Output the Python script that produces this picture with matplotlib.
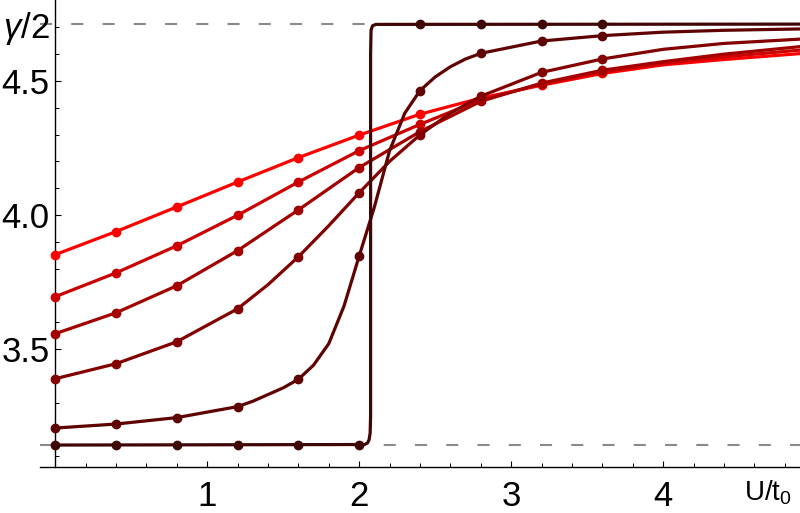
import numpy as np
import matplotlib
matplotlib.use('Agg')
import matplotlib.pyplot as plt
from matplotlib.ticker import FixedLocator

plt.rcParams['font.family'] = ['Liberation Sans', 'DejaVu Sans']
plt.rcParams['mathtext.fontset'] = 'custom'
plt.rcParams['mathtext.rm'] = 'Liberation Sans'
plt.rcParams['mathtext.it'] = 'Liberation Sans:italic'

PI = np.pi
HALF_GAMMA = 1.5 * np.pi

# sample points (dots)
x_dots = [0, 0.4, 0.8, 1.2, 1.6, 2.0, 2.4, 2.8, 3.2, 3.6]
c1_dots = [3.852, 3.938, 4.030, 4.123, 4.214, 4.298, 4.376, 4.436, 4.484, 4.528]
c2_dots = [3.695, 3.784, 3.885, 3.999, 4.123, 4.240, 4.338, 4.430, 4.488, 4.534]
c3_dots = [3.557, 3.635, 3.736, 3.867, 4.019, 4.177, 4.311, 4.424, 4.492, 4.540]
c4_dots = [3.389, 3.445, 3.527, 3.650, 3.844, 4.083, 4.299, 4.443, 4.532, 4.582]
c5_dots = [3.205, 3.220, 3.244, 3.285, 3.387, 3.847, 4.464, 4.603, 4.649, 4.669]
c6_dots = [PI] * 6 + [HALF_GAMMA] * 4

# curve values past the last dot
x_tail = [4.0, 4.4, 4.9]
c1_tail = [4.560, 4.580, 4.602]
c2_tail = [4.566, 4.590, 4.615]
c3_tail = [4.572, 4.600, 4.628]
c4_tail = [4.618, 4.640, 4.656]

# curves read more densely where they bend
c4_x = [0, 0.4, 0.8, 1.2, 1.4, 1.6, 1.8, 2.0, 2.2, 2.4, 2.6, 2.8, 3.2,
        3.6, 4.0, 4.4, 4.9]
c4_y = [3.389, 3.445, 3.527, 3.650, 3.740, 3.844, 3.960, 4.083, 4.200,
        4.299, 4.380, 4.443, 4.532, 4.582, 4.618, 4.640, 4.656]
c5_x = [0, 0.4, 0.8, 1.2, 1.3, 1.4, 1.5, 1.6, 1.7, 1.8, 1.9, 2.0, 2.1,
        2.2, 2.3, 2.4, 2.5, 2.6, 2.7, 2.8, 3.2, 3.6, 4.0, 4.4, 4.9]
c5_y = [3.205, 3.220, 3.244, 3.285, 3.305, 3.330, 3.355, 3.387, 3.440,
        3.520, 3.660, 3.847, 4.030, 4.240, 4.380, 4.464, 4.515, 4.553,
        4.582, 4.603, 4.649, 4.669, 4.682, 4.689, 4.694]
c6_x = [0, 2.035, 2.055, 2.065, 2.072, 2.075, 2.075, 2.078, 2.088, 2.11, 4.9]
c6_y = [PI, PI + 0.002, PI + 0.008, PI + 0.02, PI + 0.045, 3.25, 4.6,
        4.69, 4.706, 4.711, 4.712]

colors = ['#ff0000', '#cc0000', '#a30000', '#820000', '#5e0202', '#3f0606']


def main():
    fig = plt.figure(figsize=(8, 5.13), dpi=100)
    ax = fig.add_axes([40 / 800, 46 / 513, 760 / 800, 467 / 513])
    ax.set_xlim(-0.1, 4.9)
    ax.set_ylim(3.0597, 4.802)

    dash = (0, (5.8, 9.2))
    for yv in [PI, HALF_GAMMA]:
        ax.axhline(yv, color='#8a8a8a', lw=1.5, ls=dash, zorder=1)

    smooth = [(c1_dots, c1_tail), (c2_dots, c2_tail), (c3_dots, c3_tail)]
    for i, (d, t) in enumerate(smooth):
        ax.plot(x_dots + x_tail, d + t, color=colors[i], lw=2.3, zorder=3 + i)
        ax.plot(x_dots, d, 'o', color=colors[i], ms=6, zorder=3 + i)
    ax.plot(c4_x, c4_y, color=colors[3], lw=2.3, zorder=6)
    ax.plot(x_dots, c4_dots, 'o', color=colors[3], ms=6, zorder=6)
    ax.plot(c5_x, c5_y, color=colors[4], lw=2.3, zorder=7)
    ax.plot(x_dots, c5_dots, 'o', color=colors[4], ms=6, zorder=7)
    ax.plot(c6_x, c6_y, color=colors[5], lw=2.3, zorder=8)
    ax.plot(x_dots, c6_dots, 'o', color=colors[5], ms=6, zorder=8)

    for s in ['top', 'right']:
        ax.spines[s].set_visible(False)
    ax.spines['left'].set_position(('data', 0))
    ax.spines['left'].set_linewidth(1.0)
    ax.spines['bottom'].set_linewidth(1.0)

    ax.set_xticks([1, 2, 3, 4])
    ax.set_xticklabels(['1', '2', '3', '4'])
    ax.xaxis.set_minor_locator(FixedLocator(
        [0.2 * k for k in range(1, 25) if k % 5 != 0]))
    ax.set_yticks([3.5, 4.0, 4.5, HALF_GAMMA])
    ax.set_yticklabels(['3.5', '4.0', '4.5', r'$\gamma$/2'])
    ax.yaxis.set_minor_locator(FixedLocator(
        [3.1, 3.2, 3.3, 3.4, 3.6, 3.7, 3.8, 3.9, 4.1, 4.2, 4.3, 4.4, 4.6, 4.7]))
    ax.yaxis.get_major_ticks()[-1].tick1line.set_visible(False)

    ax.tick_params(which='major', direction='in', length=4.5, width=0.8,
                   labelsize=25)
    ax.tick_params(which='minor', direction='in', length=3, width=0.7)
    ax.tick_params(axis='x', which='major', pad=9)
    ax.tick_params(axis='y', which='major', pad=4)

    fig.text(0.99, 0.039, r'U/t$_0$', fontsize=20, ha='right', va='center')

    fig.savefig('out.png', dpi=100)


if __name__ == '__main__':
    main()
